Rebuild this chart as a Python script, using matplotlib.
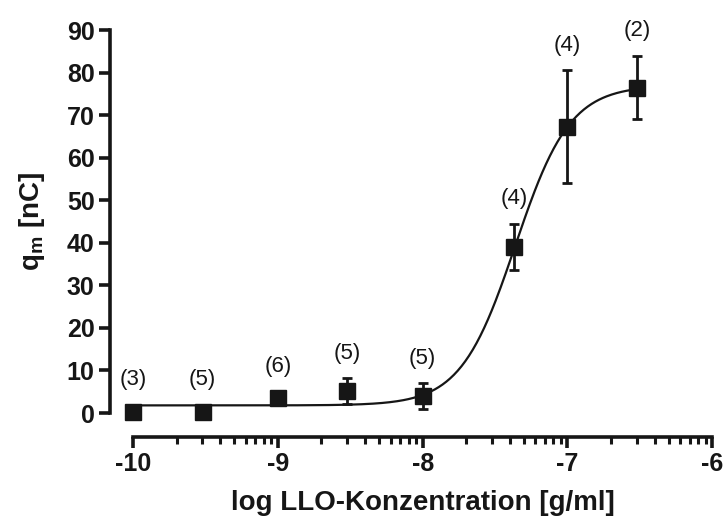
import matplotlib
matplotlib.use("Agg")
import matplotlib.pyplot as plt
import numpy as np

plt.rcParams['font.family'] = ['Liberation Sans', 'DejaVu Sans']
plt.rcParams['mathtext.fontset'] = 'custom'
plt.rcParams['mathtext.bf'] = 'Liberation Sans:bold'
plt.rcParams['mathtext.rm'] = 'Liberation Sans'

# data
log_conc = [-10.0, -9.52, -9.0, -8.52, -8.0, -7.37, -7.0, -6.52]
q_mean = [0.3, 0.3, 3.5, 5.2, 4.0, 39.0, 67.3, 76.5]
q_err = [0.0, 0.0, 0.0, 3.0, 3.0, 5.5, 13.3, 7.5]
n_labels = ['(3)', '(5)', '(6)', '(5)', '(5)', '(4)', '(4)', '(2)']

# sigmoid fit parameters (bottom, top, logEC50, hill slope)
fit_bottom = 1.8
fit_top = 77.0
fit_logec50 = -7.36
fit_hill = 2.3

ink = '#161616'

fig = plt.figure(figsize=(7.23, 5.27), dpi=100)
ax = fig.add_axes([0.152, 0.171, 0.836, 0.776])

# fitted curve
xf = np.linspace(log_conc[0], log_conc[-1], 400)
yf = fit_bottom + (fit_top - fit_bottom) / (1 + 10 ** ((fit_logec50 - xf) * fit_hill))
ax.plot(xf, yf, color=ink, lw=1.6, zorder=2)

# points with error bars
ax.errorbar(log_conc, q_mean, yerr=q_err, fmt='s', color=ink, ms=11,
            elinewidth=2, capsize=3.5, capthick=2, zorder=3)

# n labels above each point
for x, m, e, lab in zip(log_conc, q_mean, q_err, n_labels):
    ax.annotate(lab, (x, m + e), xytext=(0, max(e * 4.25, 7) + 25 - e * 4.25),
                textcoords='offset pixels', ha='center', va='center',
                fontsize=16, color=ink)

ax.set_xlim(-10.16, -5.986)
ax.set_ylim(-5.6, 90.5)

for s in ['top', 'right']:
    ax.spines[s].set_visible(False)
ax.spines['left'].set_bounds(0, 90)
ax.spines['bottom'].set_bounds(-10, -6)
for s in ['left', 'bottom']:
    ax.spines[s].set_linewidth(2.6)
    ax.spines[s].set_color(ink)

ax.set_yticks(np.arange(0, 91, 10))
ax.set_xticks([-10, -9, -8, -7, -6])
ax.set_xticklabels(['-10', '-9', '-8', '-7', '-6'])
minor = [d + np.log10(k) for d in range(-10, -6) for k in range(2, 10)]
ax.set_xticks(minor, minor=True)

ax.tick_params(axis='both', which='major', length=8, width=2.6, color=ink,
               labelsize=18, labelcolor=ink, pad=3)
ax.tick_params(axis='x', which='minor', length=5, width=2.2, color=ink)
for t in ax.get_xticklabels() + ax.get_yticklabels():
    t.set_fontweight('bold')

ax.set_xlabel('log LLO-Konzentration [g/ml]', fontsize=20, fontweight='bold',
              color=ink, labelpad=10)
ax.set_ylabel(r'q$_{\mathbf{m}}$ [nC]', fontsize=20, fontweight='bold',
              color=ink, labelpad=14)
# centre the labels on the drawn spines
ax.xaxis.label.set_x(0.518)
ax.yaxis.label.set_y(0.527)

fig.savefig('out.png', dpi=100)
